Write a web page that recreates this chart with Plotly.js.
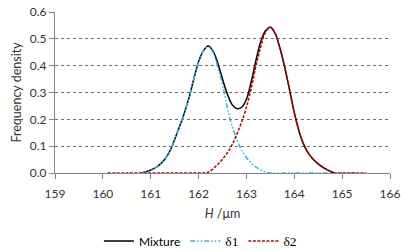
<!DOCTYPE html>
<html>
<head>
<meta charset="utf-8">
<script src="https://cdn.plot.ly/plotly-3.0.1.min.js"></script>
<style>
  html, body { margin: 0; padding: 0; background: #fff; }
  #plot { width: 409px; height: 251px; }
</style>
</head>
<body>
<div id="plot"></div>
<script>
// mixture curve
let arrMixX = [160.8, 160.9, 161.0, 161.1, 161.2, 161.3, 161.4, 161.5, 161.6, 161.7,
  161.8, 161.9, 162.0, 162.1, 162.2, 162.3, 162.4, 162.5, 162.6, 162.7,
  162.8, 162.9, 163.0, 163.1, 163.2, 163.3, 163.4, 163.5, 163.6, 163.7,
  163.8, 163.9, 164.0, 164.1, 164.2, 164.3, 164.4, 164.5, 164.6, 164.7,
  164.8, 164.85];
let arrMixY = [0, 0.005, 0.011, 0.02, 0.033, 0.052, 0.082, 0.125, 0.172, 0.222,
  0.28, 0.35, 0.415, 0.455, 0.473, 0.455, 0.41, 0.35, 0.295, 0.255,
  0.24, 0.245, 0.275, 0.34, 0.42, 0.49, 0.53, 0.543, 0.52, 0.465,
  0.395, 0.31, 0.225, 0.155, 0.105, 0.072, 0.05, 0.034, 0.021, 0.011,
  0.003, 0];

// delta 1 component
let arrD1X = [160.8, 160.9, 161.0, 161.1, 161.2, 161.3, 161.4, 161.5, 161.6, 161.7,
  161.8, 161.9, 162.0, 162.1, 162.2, 162.3, 162.4, 162.5, 162.6, 162.7,
  162.8, 162.9, 163.0, 163.1, 163.2, 163.3, 163.4, 163.5, 164.0, 164.5,
  165.0, 165.5];
let arrD1Y = [0, 0.005, 0.011, 0.02, 0.033, 0.052, 0.082, 0.125, 0.172, 0.222,
  0.28, 0.35, 0.415, 0.455, 0.47, 0.45, 0.395, 0.33, 0.245, 0.175,
  0.125, 0.085, 0.058, 0.036, 0.022, 0.012, 0.004, 0, 0, 0,
  0, 0];

// delta 2 component
let arrD2X = [160.1, 160.5, 161.0, 161.5, 162.0, 162.1, 162.2, 162.3, 162.4, 162.5,
  162.6, 162.7, 162.8, 162.9, 163.0, 163.1, 163.2, 163.3, 163.4, 163.5,
  163.6, 163.7, 163.8, 163.9, 164.0, 164.1, 164.2, 164.3, 164.4, 164.5,
  164.6, 164.7, 164.8, 164.85, 165.0, 165.5];
let arrD2Y = [0, 0, 0, 0, 0, 0, 0.003, 0.015, 0.032, 0.052,
  0.075, 0.105, 0.145, 0.19, 0.245, 0.315, 0.4, 0.47, 0.525, 0.543,
  0.52, 0.465, 0.395, 0.31, 0.225, 0.155, 0.105, 0.072, 0.05, 0.034,
  0.021, 0.011, 0.003, 0, 0, 0];

let strFont = "Lato, 'Open Sans', sans-serif";
let strSerif = "<span style='font-family:\"Liberation Serif\", serif;font-size:13.5px'>";

let traceMix = {
  x: arrMixX, y: arrMixY, name: "Mixture", type: "scatter", mode: "lines",
  line: { color: "#000000", width: 1.5, shape: "spline" }
};
let traceD1 = {
  x: arrD1X, y: arrD1Y, name: strSerif + "δ1</span>", type: "scatter", mode: "lines",
  line: { color: "#2fb4e8", width: 1.5, dash: "5px,2px,1.5px,2px,1.5px,2px", shape: "spline" }
};
let traceD2 = {
  x: arrD2X, y: arrD2Y, name: strSerif + "δ2</span>", type: "scatter", mode: "lines",
  line: { color: "#c00000", width: 1.5, dash: "3px,1.5px", shape: "spline" }
};

let layout = {
  width: 409,
  height: 251,
  margin: { l: 55, r: 19, t: 12, b: 78, autoexpand: false },
  paper_bgcolor: "#ffffff",
  plot_bgcolor: "#ffffff",
  font: { family: strFont, size: 12, color: "#333333" },
  showlegend: true,
  legend: {
    orientation: "h",
    xref: "container", yref: "container",
    x: 0.49, xanchor: "center",
    y: 0.04, yanchor: "middle",
    font: { family: strFont, size: 12, color: "#000000" },
    itemwidth: 30,
    tracegroupgap: 0
  },
  xaxis: {
    range: [159, 166],
    dtick: 1,
    tick0: 159,
    showgrid: false,
    zeroline: false,
    showline: true,
    linecolor: "#868686",
    linewidth: 1,
    ticks: "outside",
    ticklen: 5,
    tickcolor: "#868686",
    ticklabelstandoff: 5,
    tickfont: { family: strFont, size: 12, color: "#333333" },
    title: { text: "<i>H</i> /μm", font: { family: strFont, size: 12.5, color: "#333333" }, standoff: 8 },
    automargin: false
  },
  yaxis: {
    range: [0, 0.6],
    dtick: 0.1,
    tickformat: ".1f",
    showgrid: true,
    gridcolor: "#6e6e6e",
    griddash: "dot",
    gridwidth: 1,
    zeroline: false,
    showline: true,
    linecolor: "#868686",
    linewidth: 1,
    ticks: "outside",
    ticklen: 5,
    tickcolor: "#868686",
    tickfont: { family: strFont, size: 12, color: "#333333" },
    title: { text: "Frequency density", font: { family: strFont, size: 12.5, color: "#333333" }, standoff: 5 },
    automargin: false
  }
};

Plotly.newPlot("plot", [traceMix, traceD1, traceD2], layout, { displayModeBar: false, staticPlot: true });
</script>
</body>
</html>
